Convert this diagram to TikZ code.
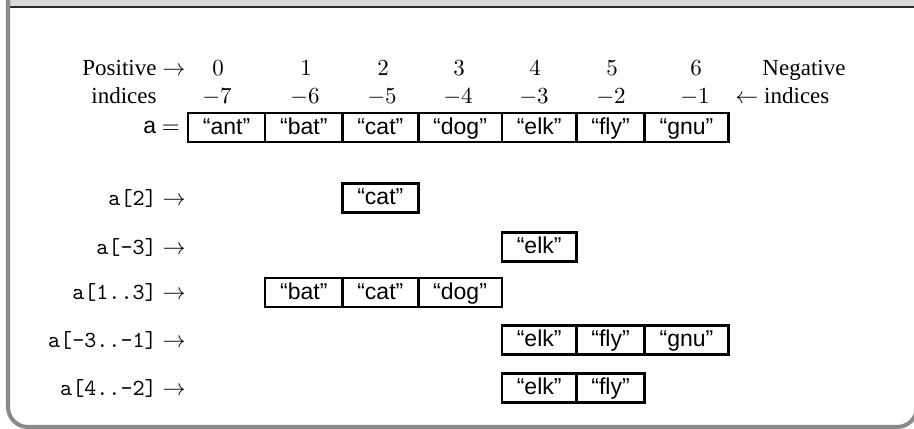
\documentclass[tikz,border=0pt]{standalone}
\usepackage{fontspec}
\setmainfont{Liberation Serif}
\setsansfont{Liberation Sans}
\usetikzlibrary{positioning}
\definecolor{framegray}{RGB}{138,138,138}
\definecolor{bandgray}{RGB}{218,218,218}
\definecolor{bandline}{RGB}{45,45,45}
\tikzset{
  cell/.style={draw, line width=1.1pt, font=\sffamily, inner xsep=6.5pt,
    inner ysep=0pt, minimum height=12.6pt, outer sep=0pt, text height=7.8pt, text depth=2pt},
  slice/.style={anchor=east, inner sep=0pt},
  idx/.style={anchor=base, inner sep=0pt},
}
\begin{document}
\begin{tikzpicture}[x=0.4348pt,y=-0.4348pt]
  \useasboundingbox (0,0) rectangle (914,429);
  % frame
  \fill[bandgray] (10,0) rectangle (914,6);
  \draw[bandline, line width=0.9pt] (10,7) -- (914,7);
  \draw[framegray, line width=1.75pt] (8,0) -- (8,407) arc (180:90:20) -- (897,427) arc (90:0:20) -- (917,0);
  % index labels
  \node[idx, anchor=base west] (postxt) at (82,76) {Positive $\rightarrow$};
  \node[idx, anchor=base west] (posind) at (91,104) {indices};
  \node[idx, anchor=base west] (negtxt) at (762,76) {Negative};
  \node[idx, anchor=base west] (negind) at (735,104) {$\leftarrow$ indices};
  \foreach \x/\p/\n in {218/0/7, 306/1/6, 383/2/5, 459/3/4, 535/4/3, 612/5/2, 696/6/1}{
    \node[idx] (p\p) at (\x,76) {$\p$};
    \node[idx] (n\n) at (\x-1,104) {$-\n$};
  }
  % the array
  \node[cell, anchor=west] (ant) at (188,127.5) {``ant''};
  \foreach \w [remember=\w as \prev (initially ant)] in {bat,cat,dog,elk,fly,gnu}
    \node[cell, right=0pt of \prev] (\w) {``\w''};
  \node[anchor=east] (aeq) at (ant.west) {\textsf{a} $=$};
  % slices
  \node[slice] (s1) at (186,198) {\texttt{a[2]} $\rightarrow$};
  \node[slice] (s2) at (186,247) {\texttt{a[-3]} $\rightarrow$};
  \node[slice] (s3) at (186,292.5) {\texttt{a[1..3]} $\rightarrow$};
  \node[slice] (s4) at (186,340) {\texttt{a[-3..-1]} $\rightarrow$};
  \node[slice] (s5) at (186,388) {\texttt{a[4..-2]} $\rightarrow$};
  \node[cell] (s1cat) at (cat |- s1) {``cat''};
  \node[cell] (s2elk) at (elk |- s2) {``elk''};
  \node[cell] (s3bat) at (bat |- s3) {``bat''};
  \node[cell, right=0pt of s3bat] (s3cat) {``cat''};
  \node[cell, right=0pt of s3cat] (s3dog) {``dog''};
  \node[cell] (s4elk) at (elk |- s4) {``elk''};
  \node[cell, right=0pt of s4elk] (s4fly) {``fly''};
  \node[cell, right=0pt of s4fly] (s4gnu) {``gnu''};
  \node[cell] (s5elk) at (elk |- s5) {``elk''};
  \node[cell, right=0pt of s5elk] (s5fly) {``fly''};
\end{tikzpicture}
\end{document}
